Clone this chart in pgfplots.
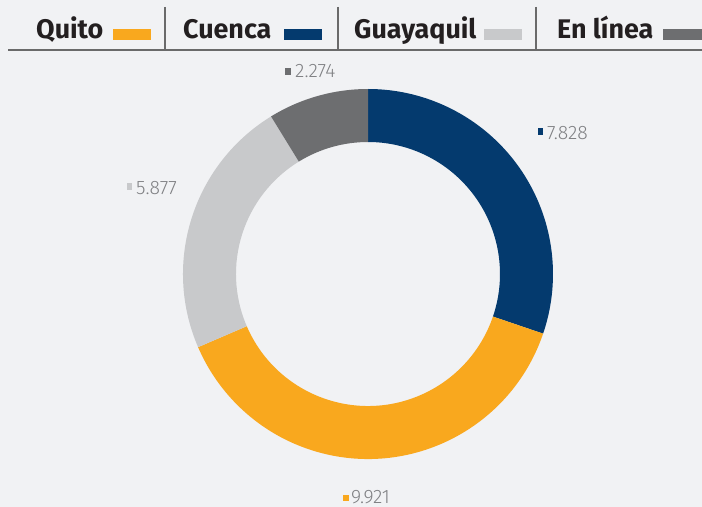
\documentclass[border=0pt]{standalone}
\usepackage{fontspec}
\setmainfont{Fira Sans}
\newfontfamily\lightfont{Fira Sans}[UprightFont=* Light]
\usepackage{pgfplots}
\usepackage{pgfplotstable}
\pgfplotsset{compat=1.18}
\definecolor{bg}{HTML}{F1F2F4}
\definecolor{cQuito}{HTML}{F9A81E}
\definecolor{cCuenca}{HTML}{043A6E}
\definecolor{cGuaya}{HTML}{C8C9CB}
\definecolor{cLinea}{HTML}{6D6E70}
\definecolor{txt}{HTML}{231F20}
\definecolor{lbl}{HTML}{7F8083}
\definecolor{rule}{HTML}{6A6A6A}
\pgfplotstableread{
city value
Cuenca 7828
Quito 9921
Guayaquil 5877
Enlinea 2274
}\datatable
\newcommand\ring[3]{%
  \fill[#3] ([shift={(#1:185bp)}]axis cs:368,233) arc[start angle=#1, end angle=#2, radius=185bp]
    -- ([shift={(#2:132bp)}]axis cs:368,233) arc[start angle=#2, end angle=#1, radius=132bp] -- cycle;}
\begin{document}
\begin{tikzpicture}
\pgfplotstablegetelem{0}{value}\of\datatable \let\vA\pgfplotsretval
\pgfplotstablegetelem{1}{value}\of\datatable \let\vB\pgfplotsretval
\pgfplotstablegetelem{2}{value}\of\datatable \let\vC\pgfplotsretval
\pgfplotstablegetelem{3}{value}\of\datatable \let\vD\pgfplotsretval
\pgfmathsetmacro\tot{\vA/1000+\vB/1000+\vC/1000+\vD/1000}
\pgfmathsetmacro\aA{90}
\pgfmathsetmacro\aB{\aA-360*(\vA/1000)/\tot}
\pgfmathsetmacro\aC{\aB-360*(\vB/1000)/\tot}
\pgfmathsetmacro\aD{\aC-360*(\vC/1000)/\tot}
\pgfmathsetmacro\aE{\aD-360*(\vD/1000)/\tot}
\begin{axis}[x=1bp, y=1bp, xmin=0, xmax=702, ymin=0, ymax=507,
  hide axis, clip=false, at={(0,0)}, anchor=south west]
\fill[bg] (axis cs:0,0) rectangle (axis cs:702,507);
% donut
\ring{\aA}{\aB}{cCuenca}
\ring{\aB}{\aC}{cQuito}
\ring{\aC}{\aD}{cGuaya}
\ring{\aD}{\aE}{cLinea}
% legend
\draw[rule, line width=1.5bp] (axis cs:8,457) -- (axis cs:702,457);
\draw[rule, line width=1.2bp] (axis cs:165,500) -- (axis cs:165,457);
\draw[rule, line width=1.2bp] (axis cs:338,500) -- (axis cs:338,457);
\draw[rule, line width=1.2bp] (axis cs:536,500) -- (axis cs:536,457);
\node[anchor=base west, inner sep=0, text=txt, font=\fontsize{27}{30}\selectfont\bfseries] at (axis cs:36,468) {Quito};
\node[anchor=base west, inner sep=0, text=txt, font=\fontsize{27}{30}\selectfont\bfseries] at (axis cs:183,468) {Cuenca};
\node[anchor=base west, inner sep=0, text=txt, font=\fontsize{27}{30}\selectfont\bfseries] at (axis cs:354,468) {Guayaquil};
\node[anchor=base west, inner sep=0, text=txt, font=\fontsize{27}{30}\selectfont\bfseries] at (axis cs:557,468) {En línea};
\fill[cQuito] (axis cs:113,478) rectangle (axis cs:151,467);
\fill[cCuenca] (axis cs:284,478) rectangle (axis cs:322,467);
\fill[cGuaya] (axis cs:484,478) rectangle (axis cs:522,467);
\fill[cLinea] (axis cs:663,478) rectangle (axis cs:710,467);
% value labels
\fill[cLinea] (axis cs:285,439) rectangle (axis cs:291,432);
\node[anchor=base west, inner sep=0, text=lbl, font=\fontsize{19.5}{22}\selectfont\lightfont] at (axis cs:295,429) {2.274};
\fill[cCuenca] (axis cs:538,379) rectangle (axis cs:543,372);
\node[anchor=base west, inner sep=0, text=lbl, font=\fontsize{19.5}{22}\selectfont\lightfont] at (axis cs:547,368) {7.828};
\fill[cGuaya] (axis cs:127,324) rectangle (axis cs:132,317);
\node[anchor=base west, inner sep=0, text=lbl, font=\fontsize{19.5}{22}\selectfont\lightfont] at (axis cs:136,313) {5.877};
\fill[cQuito] (axis cs:343,12) rectangle (axis cs:349,6);
\node[anchor=base west, inner sep=0, text=lbl, font=\fontsize{19.5}{22}\selectfont\lightfont] at (axis cs:351,4) {9.921};
\end{axis}
\pgfresetboundingbox
\path[use as bounding box] (0,0) rectangle (702bp,507bp);
\end{tikzpicture}
\end{document}
